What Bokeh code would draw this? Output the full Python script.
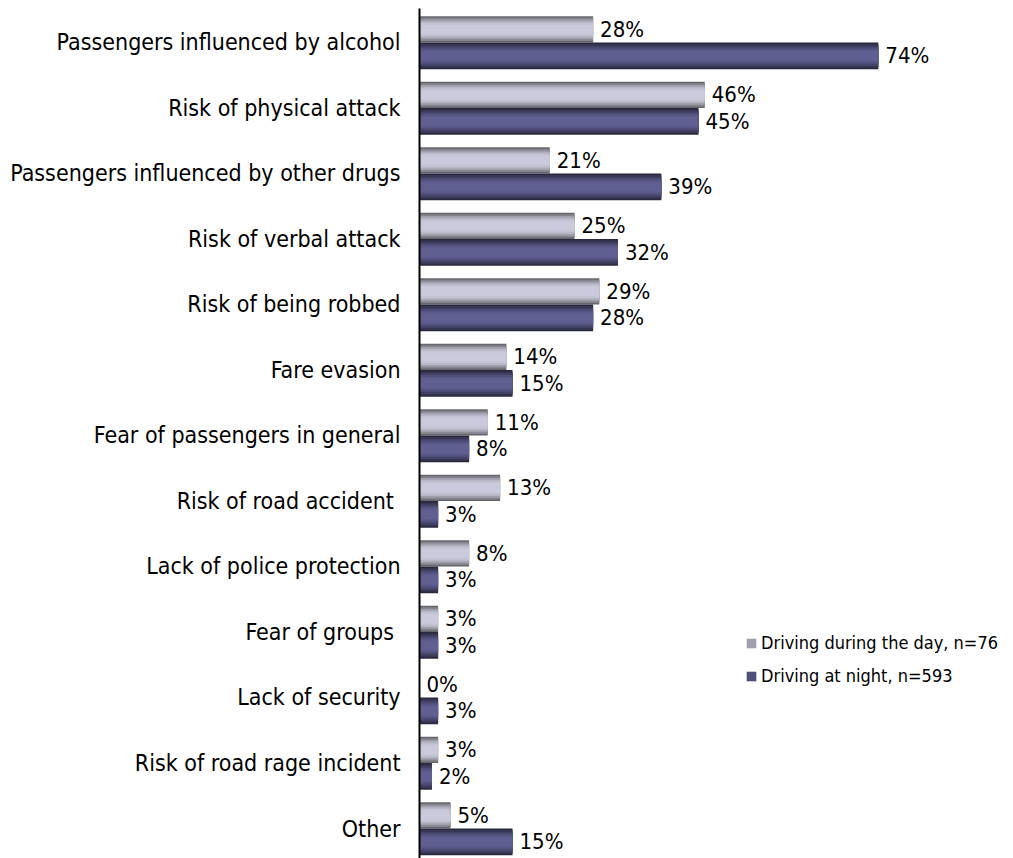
from bokeh.plotting import figure
from bokeh.models import Range1d, FixedTicker, Legend, LegendItem
from bokeh.core.properties import value
from bokeh.embed import file_html
from bokeh.resources import INLINE

categories = [
    "Passengers influenced by alcohol",
    "Risk of physical attack",
    "Passengers influenced by other drugs",
    "Risk of verbal attack",
    "Risk of being robbed",
    "Fare evasion",
    "Fear of passengers in general",
    "Risk  of road accident",
    "Lack of police protection",
    "Fear of groups ",
    "Lack of security",
    "Risk of road rage incident",
    "Other",
]
day_values = [28, 46, 21, 25, 29, 14, 11, 13, 8, 3, 0, 3, 5]
night_values = [74, 45, 39, 32, 28, 15, 8, 3, 3, 3, 3, 2, 15]
series_names = ["Driving during the day, n=76", "Driving at night, n=593"]

FONT = "DejaVu Sans Condensed"

rows = list(range(len(categories)))
day_y = [r - 0.2 for r in rows]
night_y = [r + 0.205 for r in rows]
day_lbl = [f"{v}%" for v in day_values]
night_lbl = [f"{v}%" for v in night_values]

p = figure(width=1013, height=858, output_backend="svg", toolbar_location=None,
           x_range=Range1d(0, 95.8), y_range=Range1d(12.458, -0.519),
           min_border_left=419, min_border_right=0, min_border_top=8, min_border_bottom=0)
p.outline_line_color = None
p.grid.visible = False
p.background_fill_color = "white"

# gradient-like bars via layered hbars
day_layers = [(1.0, "#66666c"), (0.88, "#84848e"), (0.76, "#a0a0ac"),
              (0.62, "#b6b6c4"), (0.48, "#c4c4d4"), (0.34, "#cacadc")]
night_layers = [(1.0, "#29283e"), (0.88, "#363552"), (0.76, "#434266"),
                (0.62, "#504f7a"), (0.48, "#5a5989"), (0.34, "#605f92")]
day_r = []
for f, c in day_layers:
    day_r.append(p.hbar(y=day_y, left=0, right=day_values, height=0.4 * f,
                        fill_color=c, line_color=None))
night_r = []
for f, c in night_layers:
    night_r.append(p.hbar(y=night_y, left=0, right=night_values, height=0.41 * f,
                          fill_color=c, line_color=None))

p.text(x=day_values, y=day_y, text=day_lbl, x_offset=7, text_baseline="middle",
       text_align="left", text_font=value(FONT),
       text_font_size="22px", text_color="black")
p.text(x=night_values, y=night_y, text=night_lbl, x_offset=7, text_baseline="middle",
       text_align="left", text_font=value(FONT),
       text_font_size="22px", text_color="black")

p.xaxis.visible = False
yax = p.yaxis[0]
yax.ticker = FixedTicker(ticks=rows)
yax.major_label_overrides = {r: c for r, c in zip(rows, categories)}
yax.major_tick_line_color = None
yax.minor_tick_line_color = None
yax.axis_line_color = "black"
yax.axis_line_width = 2
yax.major_label_standoff = 13
yax.major_label_text_font = FONT
yax.major_label_text_font_style = "normal"
yax.major_label_text_font_size = "23px"
yax.major_label_text_color = "black"

legend = Legend(items=[LegendItem(label=series_names[0], renderers=[day_r[2]]),
                       LegendItem(label=series_names[1], renderers=[night_r[3]])],
                location=(326, 172), border_line_color=None, background_fill_alpha=0,
                glyph_width=12, glyph_height=12, label_standoff=4, spacing=12,
                label_text_font=FONT, label_text_font_style="normal",
                label_text_color="black",
                label_text_font_size="18px", padding=4, margin=0)
p.add_layout(legend)

open("out.html", "w").write(file_html(p, INLINE))
